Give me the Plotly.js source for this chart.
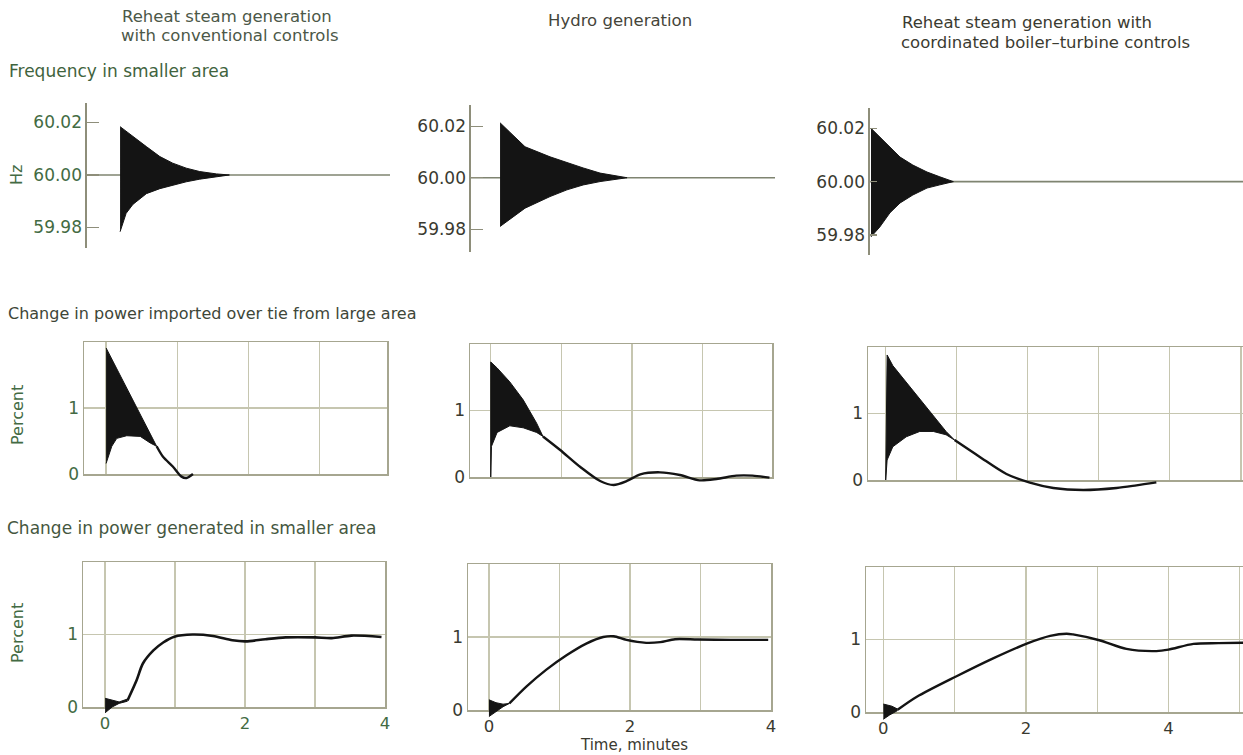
<!DOCTYPE html>
<html>
<head>
<meta charset="utf-8">
<script src="https://cdn.plot.ly/plotly-3.0.1.min.js"></script>
<style>html,body{margin:0;padding:0;background:#fff;}#chart{width:1243px;height:755px;}</style>
</head>
<body>
<div id="chart"></div>
<script>
// ---------------- DATA ----------------
var columnTitles = [
  ["Reheat steam generation", "with conventional controls"],
  ["Hydro generation"],
  ["Reheat steam generation with", "coordinated boiler\u2013turbine controls"]
];
var rowTitles = ["Frequency in smaller area",
                 "Change in power imported over tie from large area",
                 "Change in power generated in smaller area"];
var freqTickVals = [59.98, 60.00, 60.02];
var freqTickText = ["59.98", "60.00", "60.02"];
var pctTickVals = [0, 1, 2];
var pctTickText = ["0", "1", ""];
var timeTickVals = [0, 1, 2, 3, 4, 5];
var timeTickText = ["0", "", "2", "", "4", ""];

// --- Frequency in smaller area (Hz): oscillation envelope ---
var freqT_conv  = [0, 0.09, 0.19, 0.39, 0.59, 0.78, 0.98, 1.18, 1.43, 1.62];
var freqHi_conv = [60.0184, 60.0166, 60.0146, 60.0108, 60.0070, 60.0045, 60.0026, 60.0013, 60.0004, 60.0];
var freqLo_conv = [59.9784, 59.9854, 59.9888, 59.9929, 59.9948, 59.9961, 59.9974, 59.9984, 59.9994, 60.0];
var freqSteadyT_conv = [-0.49, 4.0];
var freqSteadyV_conv = [60.0, 60.0];

var freqT_hydro  = [0, 0.15, 0.37, 0.74, 0.99, 1.23, 1.48, 1.88];
var freqHi_hydro = [60.0213, 60.0174, 60.0120, 60.0081, 60.0058, 60.0038, 60.0018, 60.0];
var freqLo_hydro = [59.9811, 59.9840, 59.9882, 59.9927, 59.9953, 59.9972, 59.9985, 60.0];
var freqSteadyT_hydro = [-0.43, 4.07];
var freqSteadyV_hydro = [60.0, 60.0];

var freqT_coord  = [0, 0.13, 0.28, 0.43, 0.62, 0.83, 1.02, 1.22];
var freqHi_coord = [60.0200, 60.0167, 60.0129, 60.0092, 60.0062, 60.0036, 60.0018, 60.0];
var freqLo_coord = [59.9793, 59.9830, 59.9883, 59.9920, 59.9950, 59.9976, 59.9988, 60.0];
var freqSteadyT_coord = [-0.015, 5.51];
var freqSteadyV_coord = [60.0, 60.0];

// --- Change in power imported over tie (percent) ---
var tieHiT_conv = [0, 0.08, 0.15, 0.29, 0.48, 0.62, 0.71];
var tieHi_conv  = [1.91, 1.74, 1.60, 1.30, 0.90, 0.61, 0.42];
var tieLoT_conv = [0, 0.08, 0.15, 0.29, 0.48, 0.62, 0.71];
var tieLo_conv  = [0.16, 0.42, 0.54, 0.58, 0.57, 0.47, 0.42];
var tieT_conv   = [0.71, 0.80, 0.94, 1.06, 1.13, 1.22];
var tieV_conv   = [0.42, 0.26, 0.11, -0.04, -0.06, 0.0];

var tieHiT_hydro = [0, 0, 0.09, 0.27, 0.46, 0.65, 0.74];
var tieHi_hydro  = [0, 1.73, 1.64, 1.43, 1.16, 0.81, 0.61];
var tieLoT_hydro = [0, 0.01, 0.09, 0.27, 0.46, 0.65, 0.74];
var tieLo_hydro  = [0, 0.46, 0.67, 0.77, 0.74, 0.67, 0.61];
var tieT_hydro   = [0.74, 0.98, 1.27, 1.55, 1.74, 1.93, 2.12, 2.40, 2.68, 2.96, 3.20, 3.48, 3.71, 3.95];
var tieV_hydro   = [0.61, 0.41, 0.15, -0.06, -0.12, -0.06, 0.04, 0.07, 0.03, -0.05, -0.03, 0.02, 0.02, -0.01];

var tieHiT_coord = [0, 0.02, 0.10, 0.29, 0.48, 0.67, 0.85, 0.97];
var tieHi_coord  = [0, 1.88, 1.72, 1.47, 1.21, 0.96, 0.73, 0.60];
var tieLoT_coord = [0, 0.02, 0.10, 0.29, 0.48, 0.67, 0.85, 0.97];
var tieLo_coord  = [0, 0.30, 0.50, 0.65, 0.73, 0.73, 0.68, 0.60];
var tieT_coord   = [0.97, 1.32, 1.70, 2.03, 2.36, 2.78, 3.25, 3.53, 3.81];
var tieV_coord   = [0.60, 0.35, 0.09, -0.04, -0.12, -0.15, -0.12, -0.08, -0.035];

// --- Change in power generated in smaller area (percent) ---
var genHiT_conv = [0, 0.10, 0.20, 0.32];
var genHi_conv  = [0.12, 0.09, 0.07, 0.11];
var genLoT_conv = [0, 0.10, 0.20, 0.32];
var genLo_conv  = [-0.08, 0.0, 0.05, 0.08];
var genT_conv   = [0.32, 0.45, 0.54, 0.69, 0.83, 0.99, 1.25, 1.54, 1.82, 2.01, 2.29, 2.58, 3.00, 3.24, 3.52, 3.95];
var genV_conv   = [0.09, 0.37, 0.60, 0.78, 0.89, 0.97, 1.00, 0.98, 0.92, 0.905, 0.935, 0.96, 0.96, 0.95, 0.985, 0.965];

var genHiT_hydro = [0, 0.10, 0.20, 0.29];
var genHi_hydro  = [0.14, 0.10, 0.08, 0.09];
var genLoT_hydro = [0, 0.10, 0.20, 0.29];
var genLo_hydro  = [-0.09, -0.02, 0.045, 0.09];
var genT_hydro   = [0.29, 0.53, 0.81, 1.10, 1.38, 1.62, 1.77, 1.95, 2.23, 2.43, 2.64, 2.96, 3.43, 3.96];
var genV_hydro   = [0.09, 0.32, 0.55, 0.75, 0.91, 1.00, 1.01, 0.96, 0.92, 0.93, 0.97, 0.965, 0.96, 0.96];

var genHiT_coord = [0, 0.12, 0.20];
var genHi_coord  = [0.11, 0.08, 0.04];
var genLoT_coord = [0, 0.09, 0.20];
var genLo_coord  = [-0.10, -0.04, 0.02];
var genT_coord   = [0.20, 0.47, 1.02, 1.54, 2.03, 2.34, 2.57, 2.66, 3.03, 3.41, 3.83, 4.00, 4.35, 4.70, 5.05];
var genV_coord   = [0.03, 0.21, 0.49, 0.74, 0.95, 1.05, 1.08, 1.07, 0.99, 0.87, 0.84, 0.86, 0.94, 0.95, 0.955];

// ---------------- LAYOUT HELPERS ----------------
var W = 1243, H = 755;
function dx(a, b) { return [a / W, b / W]; }
function dy(top, bottom) { return [1 - bottom / H, 1 - top / H]; }
var FONT = "DejaVu Sans, Liberation Sans, sans-serif";
var GREEN = "#436b43";
var DARK = "#3a3a30";
var INK = "#141414";
var GRID = "#c6c6b0";
var BOX = "#a6a690";
var AXIS = "#8e8e7a";

var traces = [];
// empty traces so that the gridded frames (axes 4..9) are created as subplots
for (var s = 4; s <= 9; s++) {
  traces.push({x: [], y: [], xaxis: "x" + s, yaxis: "y" + s, type: "scatter", mode: "lines",
               hoverinfo: "skip", showlegend: false});
}
function envelope(ax, loT, lo, hiT, hi) {
  traces.push({x: loT, y: lo, xaxis: ax[0], yaxis: ax[1], type: "scatter", mode: "lines",
               line: {color: INK, width: 1}, hoverinfo: "skip", showlegend: false});
  traces.push({x: hiT, y: hi, xaxis: ax[0], yaxis: ax[1], type: "scatter", mode: "lines",
               fill: "tonexty", fillcolor: INK, line: {color: INK, width: 1},
               hoverinfo: "skip", showlegend: false});
}
function line(ax, t, v, color, width) {
  traces.push({x: t, y: v, xaxis: ax[0], yaxis: ax[1], type: "scatter", mode: "lines",
               line: {color: color, width: width, shape: "spline", smoothing: 0.8},
               hoverinfo: "skip", showlegend: false});
}

// Frequency panels (drawn directly on their axes)
line(["x", "y"], freqSteadyT_conv, freqSteadyV_conv, "#7f8471", 1.6);
envelope(["x", "y"], freqT_conv, freqLo_conv, freqT_conv, freqHi_conv);
line(["x2", "y2"], freqSteadyT_hydro, freqSteadyV_hydro, "#7f8471", 1.6);
envelope(["x2", "y2"], freqT_hydro, freqLo_hydro, freqT_hydro, freqHi_hydro);
line(["x3", "y3"], freqSteadyT_coord, freqSteadyV_coord, "#7f8471", 1.6);
envelope(["x3", "y3"], freqT_coord, freqLo_coord, freqT_coord, freqHi_coord);
// Percent panels: traces live on hidden twin axes (same scale) so dips below 0 are not clipped
envelope(["x10", "y10"], tieLoT_conv, tieLo_conv, tieHiT_conv, tieHi_conv);
line(["x10", "y10"], tieT_conv, tieV_conv, INK, 2.4);
envelope(["x11", "y11"], tieLoT_hydro, tieLo_hydro, tieHiT_hydro, tieHi_hydro);
line(["x11", "y11"], tieT_hydro, tieV_hydro, INK, 2.4);
envelope(["x12", "y12"], tieLoT_coord, tieLo_coord, tieHiT_coord, tieHi_coord);
line(["x12", "y12"], tieT_coord, tieV_coord, INK, 2.4);
envelope(["x13", "y13"], genLoT_conv, genLo_conv, genHiT_conv, genHi_conv);
line(["x13", "y13"], genT_conv, genV_conv, INK, 2.6);
envelope(["x14", "y14"], genLoT_hydro, genLo_hydro, genHiT_hydro, genHi_hydro);
line(["x14", "y14"], genT_hydro, genV_hydro, INK, 2.4);
envelope(["x15", "y15"], genLoT_coord, genLo_coord, genHiT_coord, genHi_coord);
line(["x15", "y15"], genT_coord, genV_coord, INK, 2.4);

function freqX(dom, range) {
  return {domain: dom, range: range, visible: false, fixedrange: true};
}
function freqY(dom, range, anchor, color, ticklen) {
  return {domain: dom, range: range, anchor: anchor, showline: true, linecolor: AXIS, linewidth: 1.6,
          ticks: "inside", ticklen: ticklen, tickwidth: 1.3, tickcolor: AXIS,
          tickvals: freqTickVals, ticktext: freqTickText, showgrid: false, zeroline: false,
          tickfont: {family: FONT, size: 17, color: color}, fixedrange: true};
}

var layout = {
  width: W, height: H, margin: {l: 0, r: 0, t: 0, b: 0},
  paper_bgcolor: "#ffffff", plot_bgcolor: "rgba(0,0,0,0)",
  showlegend: false, font: {family: FONT, color: DARK},
  xaxis:  freqX(dx(87, 390), [-0.49, 4.0]),
  yaxis:  freqY(dy(103, 248), [59.9722, 60.0274], "x", GREEN, 12),
  xaxis2: freqX(dx(471, 775), [-0.43, 4.07]),
  yaxis2: freqY(dy(105, 252), [59.9712, 60.0282], "x2", DARK, 12),
  xaxis3: freqX(dx(870, 1243), [-0.015, 5.51]),
  yaxis3: freqY(dy(108, 255), [59.9725, 60.0276], "x3", DARK, 7),
  annotations: []
};

// Gridded percent panels: [axis index, left px, right px, top px, bottom px, x range, showXLabels, colour]
var gridPanels = [
  [4, 84, 387, 342, 474, [-0.31, 3.945], false, GREEN],
  [5, 470, 772, 344, 477, [-0.294, 3.986], false, DARK],
  [6, 868, 1243, 347, 480, [-0.249, 5.03], false, DARK],
  [7, 83, 385, 562, 707, [-0.316, 4.0], true, GREEN],
  [8, 468, 771, 564, 710, [-0.297, 4.0], true, DARK],
  [9, 866, 1243, 567, 712, [-0.243, 5.045], true, DARK]
];
var EXTRA = 26; // px of room below the zero line for the hidden data axes
gridPanels.forEach(function (p) {
  var i = p[0], j = i + 6;
  layout["xaxis" + i] = {domain: dx(p[1], p[2]), range: p[5], anchor: "y" + i,
    showline: true, mirror: true, linecolor: BOX, linewidth: 1.5,
    showgrid: true, gridcolor: GRID, gridwidth: 1.3, zeroline: false,
    tickvals: timeTickVals, ticktext: timeTickText, ticks: "", showticklabels: p[6],
    ticklabelstandoff: 1, tickfont: {family: FONT, size: 16.5, color: p[7]}, fixedrange: true};
  layout["yaxis" + i] = {domain: dy(p[3], p[4]), range: [0, 2], anchor: "x" + i,
    showline: true, mirror: true, linecolor: BOX, linewidth: 1.5,
    showgrid: true, gridcolor: GRID, gridwidth: 1.3, zeroline: false,
    tickvals: pctTickVals, ticktext: pctTickText, ticks: "",
    tickfont: {family: FONT, size: 17, color: p[7]}, fixedrange: true};
  var unitPx = (p[4] - p[3]) / 2;
  layout["xaxis" + j] = {domain: dx(p[1], p[2]), range: p[5], anchor: "y" + j,
    visible: false, fixedrange: true};
  layout["yaxis" + j] = {domain: dy(p[3], p[4] + EXTRA), range: [-EXTRA / unitPx, 2],
    anchor: "x" + j, visible: false, fixedrange: true};
});

function note(text, px, py, opts) {
  var a = {text: text, x: px / W, y: 1 - py / H, xref: "paper", yref: "paper",
           xanchor: "left", yanchor: "middle", showarrow: false,
           font: {family: FONT, size: 15, color: DARK}};
  for (var k in opts) a[k] = opts[k];
  layout.annotations.push(a);
}
// Column titles
note(columnTitles[0][0], 120, 17, {font: {family: FONT, size: 16.5, color: "#4c5848"}});
note(columnTitles[0][1], 119, 36, {font: {family: FONT, size: 16.5, color: "#4c5848"}});
note(columnTitles[1][0], 620, 21, {xanchor: "center", font: {family: FONT, size: 16.5, color: "#45453a"}});
note(columnTitles[2][0], 900, 23, {font: {family: FONT, size: 16.5, color: "#3b3b31"}});
note(columnTitles[2][1], 899, 42, {font: {family: FONT, size: 16.5, color: "#3b3b31"}});
// Row titles
note(rowTitles[0], 7, 71, {font: {family: FONT, size: 17, color: "#3f633d"}});
note(rowTitles[1], 6, 313, {font: {family: FONT, size: 16, color: "#3e4638"}});
note(rowTitles[2], 5, 528, {font: {family: FONT, size: 17, color: "#45573f"}});
// Axis titles
note("Hz", 17, 175, {xanchor: "center", textangle: -90, font: {family: FONT, size: 16, color: GREEN}});
note("Percent", 17, 415, {xanchor: "center", textangle: -90, font: {family: FONT, size: 16, color: GREEN}});
note("Percent", 17, 633, {xanchor: "center", textangle: -90, font: {family: FONT, size: 16, color: GREEN}});
note("Time, minutes", 634, 755, {xanchor: "center", yanchor: "bottom", borderpad: 0,
     font: {family: FONT, size: 15, color: DARK}});

Plotly.newPlot("chart", traces, layout, {displayModeBar: false, staticPlot: true});
</script>
</body>
</html>
